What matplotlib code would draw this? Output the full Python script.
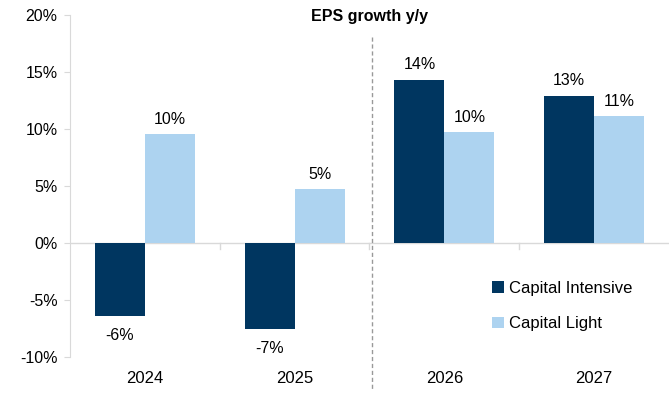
import numpy as np
import matplotlib
matplotlib.use('Agg')
from matplotlib import pyplot as plt

# EPS growth y/y by year
years = ['2024', '2025', '2026', '2027']
capital_intensive = [-6.4, -7.5, 14.3, 12.9]
capital_light = [9.6, 4.7, 9.7, 11.1]
ci_labels = ['-6%', '-7%', '14%', '13%']
cl_labels = ['10%', '5%', '10%', '11%']

dark = '#003660'
light = '#add3f0'
plt.rcParams['font.family'] = ['Liberation Sans', 'DejaVu Sans']

fig = plt.figure(figsize=(6.69, 4.04), dpi=100)
ax = fig.add_axes([0.1046, 0.1163, 0.8954, 0.8467])

x = np.arange(len(years))
w = 1 / 3
b1 = ax.bar(x - w / 2, capital_intensive, w, color=dark, label='Capital Intensive')
b2 = ax.bar(x + w / 2, capital_light, w, color=light, label='Capital Light')

# value labels
for rect, txt in zip(b1, ci_labels):
    h = rect.get_height()
    off = 6 if h >= 0 else -9
    ax.annotate(txt, (rect.get_x() + rect.get_width() / 2, h), xytext=(0, off),
                textcoords='offset points', ha='center',
                va='bottom' if h >= 0 else 'top', fontsize=11.5)
for rect, txt in zip(b2, cl_labels):
    h = rect.get_height()
    ax.annotate(txt, (rect.get_x() + rect.get_width() / 2, h), xytext=(0, 5),
                textcoords='offset points', ha='center', va='bottom', fontsize=11.5)

ax.set_xlim(-0.5, 3.5)
ax.set_ylim(-10, 20)
ax.set_yticks(range(-10, 21, 5))
ax.set_yticklabels([f'{v}%' for v in range(-10, 21, 5)], fontsize=11.5)

# years shown at the bottom, not at the zero line
ax.set_xticks([])
for xi, yr in zip(x, years):
    ax.text(xi, -11.9, yr, ha='center', va='center', fontsize=12)

for s in ['top', 'right', 'bottom']:
    ax.spines[s].set_visible(False)
ax.spines['left'].set_color('#d9d9d9')
ax.tick_params(axis='y', length=4, color='#d9d9d9', pad=5)

# zero line with category separators
ax.axhline(0, color='#d9d9d9', lw=1, zorder=0)
for sep in [0.5, 1.5, 2.5]:
    ax.plot([sep, sep], [0, -0.5], color='#d9d9d9', lw=1, zorder=0)

# forecast divider
ax.plot([1.52, 1.52], [18.1, -12.8], color='#999999', lw=1, ls=(0, (3, 2)),
        clip_on=False)

ax.text(0.5, 0.995, 'EPS growth y/y', transform=ax.transAxes, ha='center',
        va='center', fontsize=11.5, fontweight='bold')

ax.legend(loc='center left', bbox_to_anchor=(0.705, 0.149), frameon=False,
          fontsize=12, handlelength=0.7, handleheight=0.7, handletextpad=0.3,
          labelspacing=1.25, borderaxespad=0, borderpad=0)

fig.savefig('out.png', dpi=100)
